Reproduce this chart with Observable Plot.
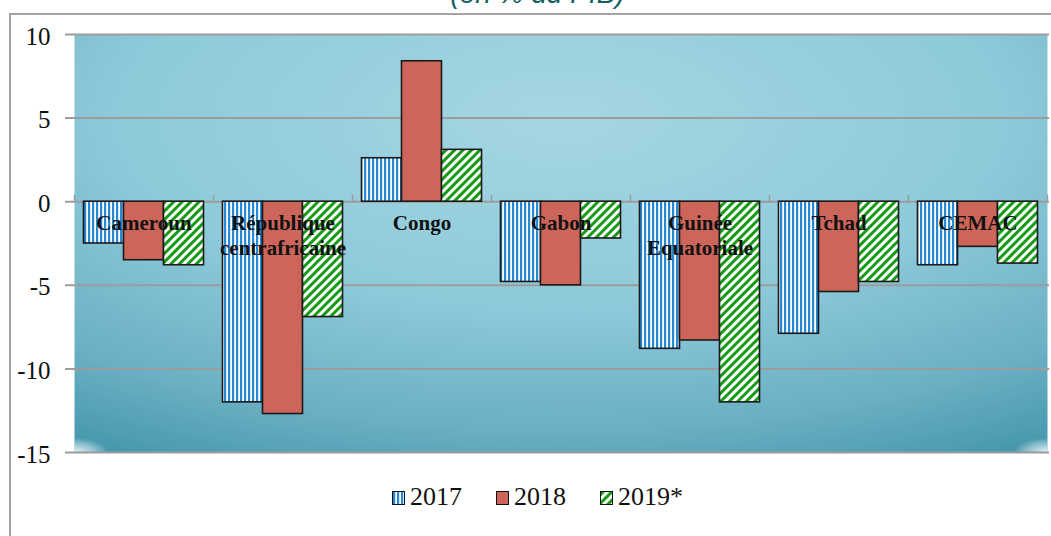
<!DOCTYPE html>
<html>
<head>
<meta charset="utf-8">
<script src="https://cdn.jsdelivr.net/npm/d3@7"></script>
<script src="https://cdn.jsdelivr.net/npm/@observablehq/plot@0.6"></script>
<style>
  html, body { margin: 0; padding: 0; background: #fff; width: 1051px; height: 536px; overflow: hidden; }
  #wrap { position: relative; width: 1051px; height: 536px; }
  #border { position: absolute; left: 9px; top: 13px; width: 2000px; height: 2000px; border-left: 2px solid #a3a3a3; border-top: 2px solid #a3a3a3; }
  #title { position: absolute; left: 0; width: 1075px; top: -20px; text-align: center; font-family: "Liberation Sans", Arial, sans-serif; font-style: italic; font-size: 28px; line-height: 28px; color: #125f60; }
  #chart { position: absolute; left: 0; top: 0; }
  #legend { position: absolute; left: 0; width: 1075px; top: 482px; display: flex; justify-content: center; gap: 34px; font-family: "Liberation Serif", "DejaVu Serif", serif; font-size: 26px; line-height: 30px; color: #111; }
  .item { display: flex; align-items: center; }
  .sw { width: 11px; height: 12px; border: 1.5px solid #111; margin-right: 5px; margin-top: 1px; }
</style>
</head>
<body>
<svg width="0" height="0" style="position:absolute">
  <defs>
    <pattern id="p17" width="4" height="4" patternUnits="userSpaceOnUse">
      <rect width="4" height="4" fill="#ffffff"/>
      <rect width="2.2" height="4" fill="#2589d6"/>
    </pattern>
    <pattern id="p19" width="6" height="6" patternUnits="userSpaceOnUse" patternTransform="rotate(45)">
      <rect width="6" height="6" fill="#ffffff"/>
      <rect width="3" height="6" fill="#179b17"/>
    </pattern>
    <radialGradient id="bg" cx="0.5" cy="0.2" r="1" fx="0.5" fy="0.2">
      <stop offset="0" stop-color="#a6d6e2"/>
      <stop offset="0.45" stop-color="#8ecada"/>
      <stop offset="0.75" stop-color="#6aafc3"/>
      <stop offset="0.95" stop-color="#4094aa"/>
      <stop offset="1" stop-color="#3a8fa5"/>
    </radialGradient>
    <radialGradient id="hlL" cx="0" cy="1" r="0.035">
      <stop offset="0" stop-color="#ffffff" stop-opacity="0.9"/>
      <stop offset="0.6" stop-color="#ffffff" stop-opacity="0.4"/>
      <stop offset="1" stop-color="#ffffff" stop-opacity="0"/>
    </radialGradient>
    <radialGradient id="hlR" cx="1" cy="1" r="0.035">
      <stop offset="0" stop-color="#ffffff" stop-opacity="0.9"/>
      <stop offset="0.6" stop-color="#ffffff" stop-opacity="0.4"/>
      <stop offset="1" stop-color="#ffffff" stop-opacity="0"/>
    </radialGradient>
  </defs>
</svg>
<div id="wrap">
  <div id="border"></div>
  <div id="title">(en % du PIB)</div>
  <div id="chart"></div>
  <div id="legend"></div>
</div>
<script>
// ---- data ----
const categories = ["Cameroun", "République centrafricaine", "Congo", "Gabon", "Guinée Equatoriale", "Tchad", "CEMAC"];
const categoryLabels = ["Cameroun", "République\ncentrafricaine", "Congo", "Gabon", "Guinée\nEquatoriale", "Tchad", "CEMAC"];
const years = ["2017", "2018", "2019*"];
const values2017 = [-2.5, -12.0, 2.6, -4.8, -8.8, -7.9, -3.8];
const values2018 = [-3.5, -12.7, 8.4, -5.0, -8.3, -5.4, -2.7];
const values2019 = [-3.8, -6.9, 3.1, -2.2, -12.0, -4.8, -3.7];
const yTicks = [10, 5, 0, -5, -10, -15];

// ---- styles ----
const fills = ["url(#p17)", "#cd655a", "url(#p19)"];
const seriesValues = [values2017, values2018, values2019];

const width = 1051, height = 470;
const marginLeft = 74, marginRight = 4, marginTop = 34, marginBottom = 18;
const step = (width - marginLeft - marginRight) / categories.length;
const gapHalf = 9.5;
const barW = (step - 2 * gapHalf) / years.length;
const serif = "Liberation Serif, DejaVu Serif, serif";

const rows = years.map((year, i) =>
  categories.map((category, j) => ({category, year, value: seriesValues[i][j]}))
);
const labelRows = categories.map((category, j) => ({category, label: categoryLabels[j]}));

const marks = [
  Plot.frame({fill: "url(#bg)", stroke: "none"}),
  Plot.frame({fill: "url(#hlL)", stroke: "none"}),
  Plot.frame({fill: "url(#hlR)", stroke: "none"}),
  Plot.ruleY(yTicks, {stroke: "#9c9c9c", strokeWidth: 2, insetLeft: -9, insetRight: -2}),
  Plot.ruleX(categories, {x: d => d, y1: 0, y2: 0.38, dx: -step / 2, stroke: "#9c9c9c", strokeWidth: 1.5}),
  Plot.ruleX([categories[categories.length - 1]], {x: d => d, y1: 0, y2: 0.38, dx: step / 2, stroke: "#9c9c9c", strokeWidth: 1.5}),
  ...years.map((year, i) =>
    Plot.barY(rows[i], {
      x: "category", y: "value",
      fill: fills[i], stroke: "#1a1a1a", strokeWidth: 1.6,
      insetLeft: gapHalf + i * barW,
      insetRight: gapHalf + (years.length - 1 - i) * barW
    })
  ),
  Plot.text(labelRows, {
    x: "category", y: 0, text: "label",
    lineAnchor: "top", dy: 10, lineHeight: 1.2,
    fontSize: 21, fontWeight: "bold", fontFamily: serif,
    fill: "#111"
  }),
  Plot.axisY({ticks: yTicks, label: null, tickSize: 0, tickPadding: 24, fontSize: 25, fontFamily: serif, dy: 2, fill: "#111", tickFormat: d => String(d)})
];

const chart = Plot.plot({
  width, height, marginLeft, marginRight, marginTop, marginBottom,
  style: {fontFamily: serif, background: "transparent", color: "#111", overflow: "visible"},
  x: {type: "band", domain: categories, padding: 0, axis: null},
  y: {domain: [-15, 10], axis: null},
  marks
});
document.getElementById("chart").appendChild(chart);

// ---- legend ----
const legend = document.getElementById("legend");
years.forEach((year, i) => {
  const item = document.createElement("div");
  item.className = "item";
  const sw = document.createElement("div");
  sw.className = "sw";
  if (i === 1) {
    sw.style.background = fills[i];
  } else {
    const s = document.createElementNS("http://www.w3.org/2000/svg", "svg");
    s.setAttribute("width", "11"); s.setAttribute("height", "12");
    s.style.display = "block";
    const r = document.createElementNS("http://www.w3.org/2000/svg", "rect");
    r.setAttribute("width", "11"); r.setAttribute("height", "12");
    r.setAttribute("fill", fills[i]);
    s.appendChild(r);
    sw.appendChild(s);
  }
  const t = document.createElement("span");
  t.textContent = year;
  item.appendChild(sw);
  item.appendChild(t);
  legend.appendChild(item);
});
</script>
</body>
</html>
